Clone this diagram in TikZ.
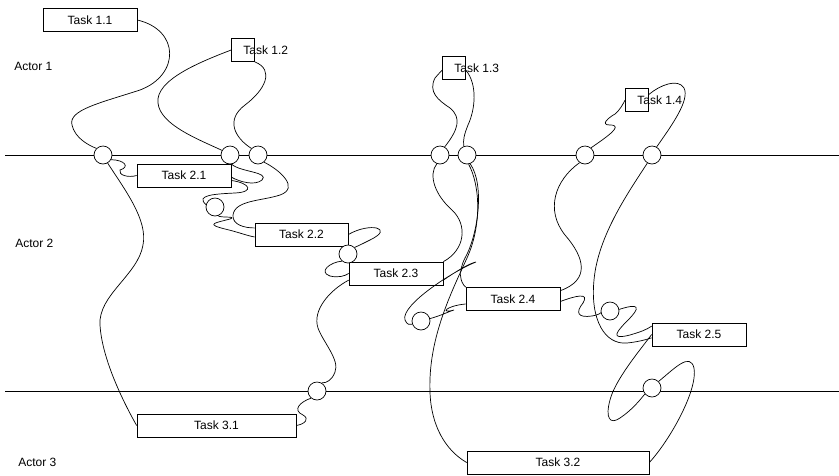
\documentclass[tikz,border=0pt]{standalone}
\usepackage{fontspec}
\setmainfont{Liberation Sans}
\usepackage{tikz}
\usetikzlibrary{positioning}
\newcommand{\laneA}{(5,155) -- (839,155)}
\newcommand{\laneB}{(5,391) -- (839,391)}

\begin{document}
\begin{tikzpicture}[x=1pt,y=-1pt,line width=0.7pt,
  task/.style={draw,inner sep=0pt,minimum height=23pt,font=\fontsize{12}{14}\selectfont},
  sq/.style={draw,inner sep=0pt,minimum size=23pt},
  hub/.style={circle,draw,fill=white,inner sep=0pt,minimum size=18pt},
  lbl/.style={anchor=west,inner sep=0pt,font=\fontsize{12}{14}\selectfont}]
\useasboundingbox (0,0) rectangle (839,475);
\draw \laneA;
\draw \laneB;

\node[lbl] (a1) at (14,66) {Actor 1};
\node[lbl] (a2) at (15,243) {Actor 2};
\node[lbl] (a3) at (18,462) {Actor 3};

\node[task,minimum width=94pt] (t11) at (90,20) {Task 1.1};
\node[sq] (t12) at (243,50) {};
\node[lbl] (l12) at (t12.center) {Task 1.2};
\node[sq] (t13) at (454,68) {};
\node[lbl] (l13) at (t13.center) {Task 1.3};
\node[sq] (t14) at (637,100) {};
\node[lbl] (l14) at (t14.center) {Task 1.4};
\node[task,minimum width=94pt] (t21) at (184,175.5) {Task 2.1};
\node[task,minimum width=93pt] (t22) at (301.5,234.5) {Task 2.2};
\node[task,minimum width=94pt] (t23) at (396,273.5) {Task 2.3};
\node[task,minimum width=94pt] (t24) at (513,299) {Task 2.4};
\node[task,minimum width=94pt] (t25) at (699,334.5) {Task 2.5};
\node[task,minimum width=159pt] (t31) at (216.5,425.5) {Task 3.1};
\node[task,minimum width=182pt] (t32) at (558,462.5) {Task 3.2};

\node[hub] (c1) at (103,155) {};
\node[hub] (c2) at (230,155) {};
\node[hub] (c3) at (258,155) {};
\node[hub] (c4) at (440,155) {};
\node[hub] (c5) at (467,155) {};
\node[hub] (c6) at (585,155) {};
\node[hub] (c7) at (652,155) {};
\node[hub] (c8) at (215,207) {};
\node[hub] (c9) at (348,254) {};
\node[hub] (c10) at (421,321) {};
\node[hub] (c11) at (610,311) {};
\node[hub] (c12) at (317,391) {};
\node[hub] (c13) at (652,388) {};

\draw (t11.east) .. controls (180,30) and (180,75) .. (140,90) .. controls (100,103) and (68,110) .. (72,125) .. controls (75,138) and (88,145) .. (c1.135);
\draw (t12.west) .. controls (200,62) and (155,80) .. (158,103) .. controls (160,125) and (200,140) .. (c2.150);
\draw (t12.south east) .. controls (275,70) and (265,90) .. (245,105) .. controls (225,120) and (235,138) .. (c3.135);
\draw (c1.-60) .. controls (125,190) and (148,220) .. (143,245) .. controls (138,275) and (98,295) .. (100,325) .. controls (102,360) and (125,405) .. (t31.west);
\draw (c1.-30) .. controls (125,160) and (130,167) .. (120,170) .. controls (118,175) and (128,178) .. (t21.west);
\draw (c2.-80) .. controls (240,172) and (270,172) .. (262,180) .. controls (255,186) and (240,182) .. (t21.-2);
\draw (t21.-6) .. controls (250,183) and (255,192) .. (235,193) .. controls (215,194) and (195,195) .. (c8.165);
\draw (c8.-70) .. controls (220,218) and (238,216) .. (230,219) .. controls (215,223) and (205,224) .. (225,229) .. controls (238,232) and (248,236) .. (t22.183);
\draw (c3.-50) .. controls (280,170) and (300,188) .. (280,195) .. controls (262,201) and (235,200) .. (233,215) .. controls (232,225) and (245,228) .. (t22.172);
\draw (t22.east) .. controls (370,222) and (395,228) .. (370,240) .. controls (362,244) and (358,246) .. (c9.45);
\draw (c9.-130) .. controls (330,262) and (318,272) .. (330,276) .. controls (338,278) and (345,276) .. (t23.west);
\draw (t23.188) .. controls (330,290) and (312,310) .. (318,328) .. controls (323,342) and (340,360) .. (335,372) .. controls (332,380) and (327,383) .. (c12.60);
\draw (c12.-130) .. controls (300,402) and (292,410) .. (303,415) .. controls (310,419) and (305,424) .. (t31.east);
\draw (c4.60) .. controls (458,130) and (462,118) .. (450,108) .. controls (438,100) and (428,92) .. (435,78) .. controls (437,75) and (440,73) .. (t13.-170);
\draw (t13.-10) .. controls (478,85) and (475,110) .. (468,125) .. controls (464,135) and (463,140) .. (c5.110);
\draw (c4.-110) .. controls (428,175) and (435,195) .. (452,210) .. controls (468,225) and (465,250) .. (t23.north east);
\draw (c5.-80) .. controls (480,185) and (482,225) .. (467,258) .. controls (450,295) and (428,340) .. (430,392) .. controls (431,425) and (445,450) .. (t32.west);
\draw (c5.-70) .. controls (485,185) and (478,235) .. (465,258) .. controls (458,272) and (460,282) .. (t24.north west);
\draw (t23.-8) .. controls (455,272) and (470,263) .. (476,262) .. controls (455,270) and (400,305) .. (405,320) .. controls (407,325) and (410,325) .. (c10.200);
\draw (c10.15) .. controls (440,316) and (450,311) .. (454,310) .. controls (440,314) and (445,306) .. (t24.186);
\draw (c6.-125) .. controls (555,180) and (545,210) .. (565,235) .. controls (585,258) and (590,280) .. (t24.10);
\draw (t24.-3) .. controls (575,296) and (590,292) .. (583,303) .. controls (575,313) and (578,318) .. (592,316) .. controls (597,315) and (600,314) .. (c11.190);
\draw (c11.10) .. controls (630,306) and (645,302) .. (630,318) .. controls (615,333) and (610,340) .. (630,335) .. controls (640,332) and (646,330) .. (t25.170);
\draw (c7.-120) .. controls (630,190) and (598,235) .. (594,280) .. controls (590,320) and (605,345) .. (627,343) .. controls (637,342) and (645,340) .. (t25.184);
\draw (c6.50) .. controls (605,138) and (625,125) .. (610,125) .. controls (600,125) and (608,118) .. (615,114) .. controls (620,110) and (623,104) .. (t14.west);
\draw (c7.60) .. controls (672,125) and (690,100) .. (684,88) .. controls (678,78) and (660,85) .. (t14.25);
\draw (t25.west) .. controls (640,350) and (615,380) .. (610,400) .. controls (605,418) and (610,425) .. (620,418) .. controls (632,410) and (640,400) .. (c13.-140);
\draw (c13.45) .. controls (675,368) and (690,352) .. (694,368) .. controls (698,390) and (670,440) .. (t32.east);
\end{tikzpicture}
\end{document}
